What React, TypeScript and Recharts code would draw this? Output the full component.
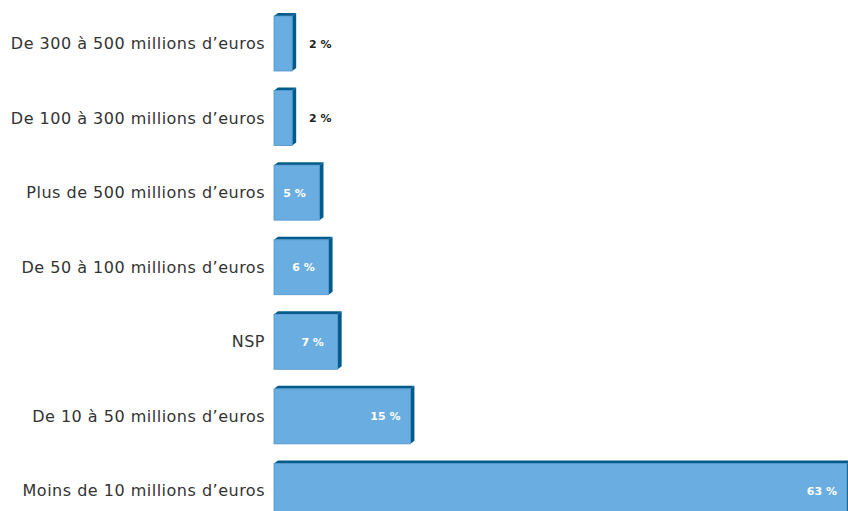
import { BarChart, Bar, XAxis, YAxis, LabelList } from 'recharts'

// tranches de chiffre d'affaires, du haut vers le bas
const categories = [
  'De 300 à 500 millions d’euros',
  'De 100 à 300 millions d’euros',
  'Plus de 500 millions d’euros',
  'De 50 à 100 millions d’euros',
  'NSP',
  'De 10 à 50 millions d’euros',
  'Moins de 10 millions d’euros',
]
const shares = [2, 2, 5, 6, 7, 15, 63]

const data = categories.map((name, i) => ({ name, value: shares[i] }))

const FRONT = '#6aade0'
const DARK = '#005b8a'
const DX = 4
const DY = 3

function Bar3D(props: any) {
  const { x, y, width, height } = props
  if (width <= 0) return null
  return (
    <g>
      <polygon
        points={`${x},${y} ${x + DX},${y - DY} ${x + width + DX},${y - DY} ${x + width},${y}`}
        fill={DARK}
      />
      <polygon
        points={`${x + width},${y} ${x + width + DX},${y - DY} ${x + width + DX},${y + height - DY} ${x + width},${y + height}`}
        fill={DARK}
      />
      <rect x={x} y={y} width={width} height={height} fill={FRONT} stroke="#4f95cc" strokeWidth={0.8} />
    </g>
  )
}

function ValueLabel(props: any) {
  const { x, y, width, height, value } = props
  const small = value < 4
  const cx = small ? x + width + 28 : x + width - 25
  return (
    <text
      x={cx}
      y={y + height / 2 + 1}
      textAnchor="middle"
      dominantBaseline="middle"
      fontSize={11}
      fontWeight={600}
      fill={small ? '#222' : '#fff'}
      fontFamily="'DejaVu Sans', sans-serif"
    >
      {`${value} %`}
    </text>
  )
}

export default function App() {
  return (
    <div style={{ position: 'fixed', top: 0, left: 0, width: 848, height: 511, overflow: 'hidden', background: '#fff' }}>
      <BarChart
        width={856}
        height={528}
        data={data}
        layout="vertical"
        margin={{ top: 6, right: 0, bottom: 0, left: 0 }}
        barSize={55}
      >
        <XAxis type="number" domain={[0, 64]} hide />
        <YAxis
          type="category"
          dataKey="name"
          width={274}
          axisLine={false}
          tickLine={false}
          tickSize={0}
          tickMargin={9}
          tick={{ fontSize: 16, fill: '#333', fontFamily: "'DejaVu Sans', sans-serif", letterSpacing: 0.5 }}
        />
        <Bar dataKey="value" shape={<Bar3D />} isAnimationActive={false}>
          <LabelList dataKey="value" content={<ValueLabel />} />
        </Bar>
      </BarChart>
    </div>
  )
}
